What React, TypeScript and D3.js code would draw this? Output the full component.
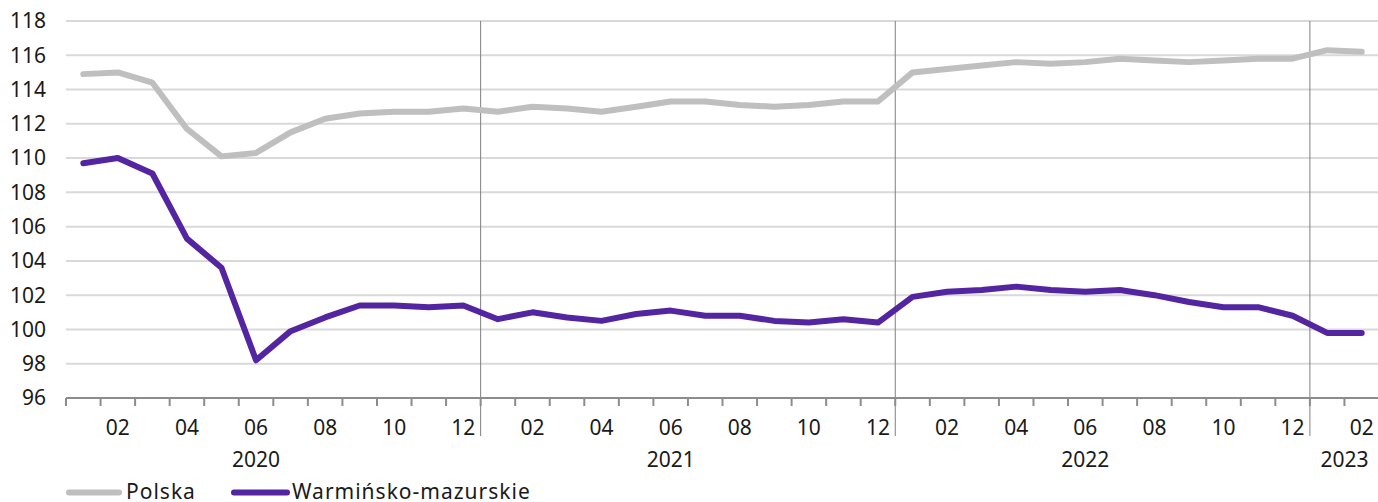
import * as d3 from "d3";

// months Jan 2020 .. Feb 2023
const years = ["2020", "2021", "2022", "2023"];
const monthsPerYear = [12, 12, 12, 2];
// month index (from start) under which each year label sits
const yearLabelAt = [5, 17, 29, 36.5];

const polska = [
  114.9, 115.0, 114.4, 111.7, 110.1, 110.3, 111.5, 112.3, 112.6, 112.7, 112.7, 112.9,
  112.7, 113.0, 112.9, 112.7, 113.0, 113.3, 113.3, 113.1, 113.0, 113.1, 113.3, 113.3,
  115.0, 115.2, 115.4, 115.6, 115.5, 115.6, 115.8, 115.7, 115.6, 115.7, 115.8, 115.8,
  116.3, 116.2,
];

const warminsko = [
  109.7, 110.0, 109.1, 105.3, 103.6, 98.2, 99.9, 100.7, 101.4, 101.4, 101.3, 101.4,
  100.6, 101.0, 100.7, 100.5, 100.9, 101.1, 100.8, 100.8, 100.5, 100.4, 100.6, 100.4,
  101.9, 102.2, 102.3, 102.5, 102.3, 102.2, 102.3, 102.0, 101.6, 101.3, 101.3, 100.8,
  99.8, 99.8,
];

const yTicks = [96, 98, 100, 102, 104, 106, 108, 110, 112, 114, 116, 118];

const seriesNames = ["Polska", "Warmińsko-mazurskie"];
const colors = ["#bfbfbf", "#5425a0"];

const W = 1378;
const H = 502;
const FONT = "'Noto Sans', sans-serif";
const FS = 21;

export default function App() {
  // build month list
  const months: { key: string; m: number; yi: number }[] = [];
  years.forEach((y, yi) => {
    for (let m = 1; m <= monthsPerYear[yi]; m++) months.push({ key: `${y}-${m}`, m, yi });
  });

  const x = d3
    .scaleBand<string>()
    .domain(months.map((d) => d.key))
    .range([66, 1379]);
  const y = d3.scaleLinear().domain([96, 118]).range([398, 21]);
  // centre of month i (fractional i allowed)
  const cx = (i: number) => x.range()[0] + (i + 0.5) * x.step();

  const line = d3
    .line<number>()
    .x((_, i) => cx(i))
    .y((v) => y(v));

  // year boundaries (start of each year after the first)
  const boundaries: number[] = [];
  let acc = 0;
  monthsPerYear.forEach((n, i) => {
    if (i > 0) boundaries.push(x(months[acc].key)!);
    acc += n;
  });

  return (
    <svg
      width={W}
      height={H}
      style={{ position: "absolute", left: 0, top: 0, fontFamily: FONT }}
    >
      <rect width={W} height={H} fill="#fff" />
      {yTicks.slice(1).map((t) => (
        <line key={t} x1={66} x2={1378} y1={y(t)} y2={y(t)} stroke="#d9d9d9" strokeWidth={2} />
      ))}
      {yTicks.map((t) => (
        <text key={t} x={46} y={y(t)} dy="0.35em" textAnchor="end" fontSize={FS} fill="#1a1a1a">
          {t}
        </text>
      ))}
      {boundaries.map((bx, i) => (
        <line key={i} x1={bx} x2={bx} y1={21} y2={436} stroke="#7f7f7f" strokeWidth={1} />
      ))}
      {/* axis */}
      <line x1={66} x2={1378} y1={398} y2={398} stroke="#8c8c8c" strokeWidth={2} />
      {months.map((d) => (
        <line
          key={d.key}
          x1={x(d.key)!}
          x2={x(d.key)!}
          y1={398}
          y2={406}
          stroke="#8c8c8c"
          strokeWidth={2}
        />
      ))}
      {months.map((d, i) =>
        d.m % 2 === 0 ? (
          <text key={d.key} x={cx(i)} y={435} textAnchor="middle" fontSize={FS} fill="#1a1a1a">
            {String(d.m).padStart(2, "0")}
          </text>
        ) : null
      )}
      {years.map((yr, i) => (
        <text key={yr} x={cx(yearLabelAt[i])} y={467} textAnchor="middle" fontSize={FS} fill="#1a1a1a">
          {yr}
        </text>
      ))}
      {[polska, warminsko].map((s, i) => (
        <path
          key={i}
          d={line(s)!}
          fill="none"
          stroke={colors[i]}
          strokeWidth={6}
          strokeLinejoin="round"
          strokeLinecap="round"
        />
      ))}
      {/* legend */}
      <g fontSize={FS} fill="#1a1a1a" letterSpacing={1}>
        <line x1={69} x2={119} y1={492.5} y2={492.5} stroke={colors[0]} strokeWidth={6} strokeLinecap="round" />
        <text x={126} y={499}>
          {seriesNames[0]}
        </text>
        <line x1={234} x2={287} y1={492.5} y2={492.5} stroke={colors[1]} strokeWidth={6} strokeLinecap="round" />
        <text x={292} y={499}>
          {seriesNames[1]}
        </text>
      </g>
    </svg>
  );
}
